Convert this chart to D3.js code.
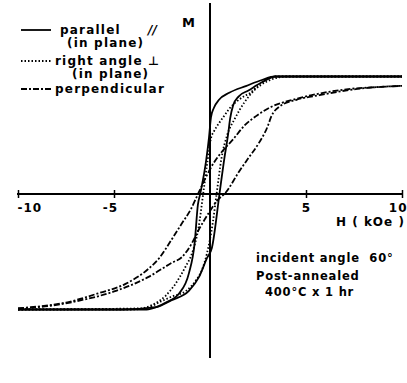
<!DOCTYPE html>
<html>
<head>
<meta charset="utf-8">
<script src="https://cdn.jsdelivr.net/npm/d3@7"></script>
<style>
  body { margin: 0; background: #fff; }
  svg { display: block; }
  text { font-family: "DejaVu Sans", sans-serif; font-weight: bold; fill: #000; white-space: pre; }
</style>
</head>
<body>
<div id="chart"></div>
<script>
// H axis ticks
const hTicks = [-10, -5, 5, 10];
const hTickLabels = ["-10", "-5", "5", "10"];

// parallel (in plane) - solid loop, [H kOe, M normalised]
const parallelDown = [[-10,-1],[-3.3,-1],[-2.8,-0.98],[-2.3,-0.94],[-1.6,-0.86],[-1.1,-0.69],[-0.8,-0.43],[-0.63,-0.1],[-0.5,0],[-0.2,0.28],[-0.05,0.48],[0.05,0.65],[0.2,0.73],[0.47,0.8],[1.0,0.86],[1.9,0.92],[2.7,0.97],[3.4,1],[10,1]];
const parallelUp = [[-10,-1],[-4.6,-1],[-2.8,-0.98],[-2.0,-0.92],[-1.1,-0.84],[-0.57,-0.72],[-0.16,-0.56],[0.1,-0.47],[0.5,0],[0.75,0.3],[0.94,0.5],[1.05,0.64],[1.2,0.75],[1.5,0.83],[2.0,0.88],[2.7,0.95],[3.4,1],[10,1]];

// right angle (in plane) - dotted loop
const rightDown = [[-10,-1],[-4,-1],[-3,-0.96],[-2.3,-0.88],[-1.8,-0.78],[-1.3,-0.64],[-0.9,-0.5],[-0.6,-0.3],[-0.35,0],[-0.15,0.25],[0.05,0.47],[0.21,0.53],[0.47,0.6],[0.73,0.66],[0.99,0.72],[1.35,0.78],[1.77,0.83],[2.1,0.86],[2.55,0.93],[3.4,1],[10,1]];
const rightUp = [[-10,-1],[-3.4,-0.99],[-2.55,-0.93],[-2.0,-0.89],[-1.25,-0.84],[-0.73,-0.75],[-0.42,-0.66],[-0.16,-0.52],[0.15,-0.25],[0.35,0],[0.6,0.3],[0.9,0.5],[1.3,0.64],[1.8,0.78],[2.3,0.88],[3.0,0.96],[4,1],[10,1]];

// perpendicular - dash-dot loop
const perpDown = [[-10,-0.99],[-9.3,-0.98],[-7.5,-0.94],[-5.8,-0.86],[-4.4,-0.78],[-3.2,-0.65],[-2.65,-0.56],[-2.0,-0.4],[-1.5,-0.27],[-1.0,-0.14],[-0.6,0],[-0.2,0.14],[0.2,0.26],[0.6,0.35],[1.2,0.46],[1.8,0.58],[2.4,0.66],[3.2,0.74],[4.3,0.8],[5.3,0.84],[7.1,0.89],[8.8,0.91],[10,0.92]];
const perpUp = [[-10,-0.99],[-8.4,-0.97],[-6.7,-0.92],[-4.9,-0.84],[-3.2,-0.72],[-2.0,-0.6],[-1.46,-0.55],[-0.94,-0.43],[-0.6,-0.32],[-0.1,-0.18],[0.4,-0.06],[0.8,0],[1.5,0.18],[2.0,0.3],[2.55,0.43],[3.0,0.57],[3.2,0.66],[3.6,0.74],[4.5,0.8],[5.7,0.84],[7.5,0.89],[10,0.92]];

const legendItems = [
  { label: "parallel", sub: "(in plane)", mark: "//", dash: null },
  { label: "right angle", sub: "(in plane)", mark: "⊥", dash: "1.5,2" },
  { label: "perpendicular", sub: null, mark: null, dash: "6,2,2,2" }
];

const notes = ["incident angle  60°", "Post-annealed", "400°C x 1 hr"];

const W = 407, H = 383;
const svg = d3.select("#chart").append("svg")
  .attr("width", W).attr("height", H);

const x = d3.scaleLinear().domain([-10, 10]).range([18, 402]);
const y = d3.scaleLinear().domain([-1, 1]).range([309.5, 76.5]);

// H axis
const xAxis = svg.append("g")
  .attr("transform", "translate(0,194)")
  .call(d3.axisBottom(x).tickValues(hTicks).tickSize(4)
    .tickFormat((d, i) => hTickLabels[i]));
xAxis.select(".domain").attr("d", `M${x(-10) - 1},0H${x(10) + 1}`)
  .attr("stroke", "#000").attr("stroke-width", 2);
xAxis.selectAll(".tick line").attr("y1", -4).attr("y2", 4)
  .attr("stroke", "#000").attr("stroke-width", 1.5);
xAxis.selectAll(".tick text")
  .attr("y", 9).attr("dy", "0.71em")
  .style("font-size", "12px").style("letter-spacing", "1px")
  .attr("text-anchor", d => d === -10 ? "start" : d === 10 ? "end" : "middle")
  .attr("dx", d => d === -10 ? -1 : d === 10 ? 5 : d < 0 ? -4 : 0);

// M axis
svg.append("line")
  .attr("x1", x(0)).attr("x2", x(0))
  .attr("y1", 3).attr("y2", 358)
  .attr("stroke", "#000").attr("stroke-width", 2);

svg.append("text").attr("x", 182).attr("y", 27)
  .style("font-size", "13px").text("M");

svg.append("text").attr("x", 336).attr("y", 226)
  .style("font-size", "12px").style("letter-spacing", "1px")
  .text("H ( kOe )");

const line = d3.line()
  .x(d => x(d[0])).y(d => y(d[1]))
  .curve(d3.curveMonotoneX);

const series = [
  { data: parallelDown, dash: null },
  { data: parallelUp, dash: null },
  { data: rightDown, dash: "1.5,2" },
  { data: rightUp, dash: "1.5,2" },
  { data: perpDown, dash: "6,2,2,2" },
  { data: perpUp, dash: "6,2,2,2" }
];

svg.selectAll("path.loop").data(series).join("path")
  .attr("class", "loop")
  .attr("d", d => line(d.data))
  .attr("fill", "none")
  .attr("stroke", "#000")
  .attr("stroke-width", 1.8)
  .attr("stroke-dasharray", d => d.dash);

// legend
const rowY = [30, 61, 89];
const lg = svg.append("g");
legendItems.forEach((it, i) => {
  lg.append("line")
    .attr("x1", 21).attr("x2", 51)
    .attr("y1", rowY[i]).attr("y2", rowY[i])
    .attr("stroke", "#000").attr("stroke-width", 1.8)
    .attr("stroke-dasharray", it.dash);
  lg.append("text").attr("x", i === 0 ? 60 : 55).attr("y", rowY[i] + 4)
    .style("font-size", "12px").style("letter-spacing", "1.2px")
    .text(it.label);
  if (it.sub) {
    lg.append("text").attr("x", i === 0 ? 67 : 72).attr("y", rowY[i] + 17)
      .style("font-size", "12px").style("letter-spacing", "1.2px")
      .text(it.sub);
  }
  if (it.mark) {
    lg.append("text").attr("x", 148).attr("y", rowY[i] + 4)
      .style("font-size", "12px").style("font-style", i === 0 ? "italic" : null)
      .text(it.mark);
  }
});

// annotation
const noteY = [262, 280, 296];
const noteX = [256, 256, 265];
svg.selectAll("text.note").data(notes).join("text")
  .attr("class", "note")
  .attr("x", (d, i) => noteX[i]).attr("y", (d, i) => noteY[i])
  .style("font-size", "11.5px").style("letter-spacing", "0.8px")
  .text(d => d);
</script>
</body>
</html>
